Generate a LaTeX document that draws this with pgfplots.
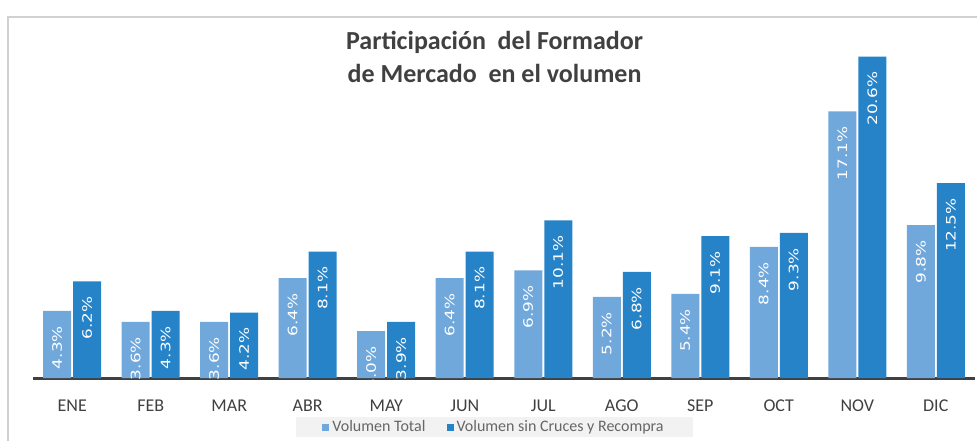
\documentclass[border=0pt]{standalone}
\usepackage{pgfplots}
\pgfplotsset{compat=1.18}
\usepackage{fontspec}
\setmainfont{Carlito}
\newfontfamily\labfont{DejaVu Sans}
\definecolor{cA}{HTML}{70A8DC}
\definecolor{cB}{HTML}{2683C8}
\definecolor{txt}{HTML}{404040}
\begin{document}
\begin{tikzpicture}
\begin{axis}[
  scale only axis, width=942pt, height=358pt,
  xmin=-0.5, xmax=11.5, ymin=0, ymax=22.95,
  axis x line*=bottom, axis y line=none,
  x axis line style={-, line width=3pt, color=txt},
  xtick={0,...,11},
  xticklabels={ENE,FEB,MAR,ABR,MAY,JUN,JUL,AGO,SEP,OCT,NOV,DIC},
  major tick length=0pt,
  xticklabel style={font=\fontsize{18}{18}\selectfont, text=txt, yshift=-18pt},
  ybar=2pt, bar width=28pt,
  point meta=explicit symbolic,
  nodes near coords={\labfont\scalebox{1.3}[1]{\pgfplotspointmeta\%}},
  every node near coord/.append style={rotate=90, anchor=east, text=white,
     font=\fontsize{13}{13}\selectfont, inner xsep=15pt},
  clip=false,
  title={Participación\ \ del Formador\\de Mercado\ \ en el volumen},
  title style={at={(0.49,0.881)}, anchor=center, align=center,
     font=\bfseries\fontsize{26}{33}\selectfont, text=txt},
  legend style={at={(0.49,-0.137)}, anchor=center, legend columns=2,
     fill=black!5, draw=none, font=\fontsize{16}{16}\selectfont, text=txt!80,
     inner xsep=26pt, inner ysep=2pt, nodes={inner xsep=3pt, inner ysep=2pt},
     /tikz/every even column/.append style={column sep=18pt}},
  legend image code/.code={\fill[#1,draw=none] (0pt,-3.5pt) rectangle (7pt,3.5pt);},
]
\addplot[fill=cA, draw=none] coordinates {
 (0,4.3) [4.3] (1,3.6) [3.6] (2,3.6) [3.6] (3,6.4) [6.4] (4,3.0) [3.0] (5,6.4) [6.4]
 (6,6.9) [6.9] (7,5.2) [5.2] (8,5.4) [5.4] (9,8.4) [8.4] (10,17.1) [17.1] (11,9.8) [9.8]};
\addplot[fill=cB, draw=none] coordinates {
 (0,6.2) [6.2] (1,4.3) [4.3] (2,4.2) [4.2] (3,8.1) [8.1] (4,3.6) [3.9] (5,8.1) [8.1]
 (6,10.1) [10.1] (7,6.8) [6.8] (8,9.1) [9.1] (9,9.3) [9.3] (10,20.6) [20.6] (11,12.5) [12.5]};
\legend{Volumen Total, Volumen sin Cruces y Recompra}
\coordinate (bl) at (rel axis cs:-0.035,-0.1732);
\coordinate (tr) at (rel axis cs:1.0021,1.0559);
\coordinate (f1) at (rel axis cs:-0.0265,-0.3);
\coordinate (f2) at (rel axis cs:-0.0265,1.0084);
\coordinate (f3) at (rel axis cs:1.05,1.0084);
\coordinate (m1) at (rel axis cs:0.30,-0.0055);
\coordinate (m2) at (rel axis cs:0.45,-0.05);
\end{axis}
\fill[white] (m1) rectangle (m2);
\draw[black!18, line width=1.5pt] (f1) -- (f2) -- (f3);
\pgfresetboundingbox
\path[use as bounding box] (bl) rectangle (tr);
\end{tikzpicture}
\end{document}
